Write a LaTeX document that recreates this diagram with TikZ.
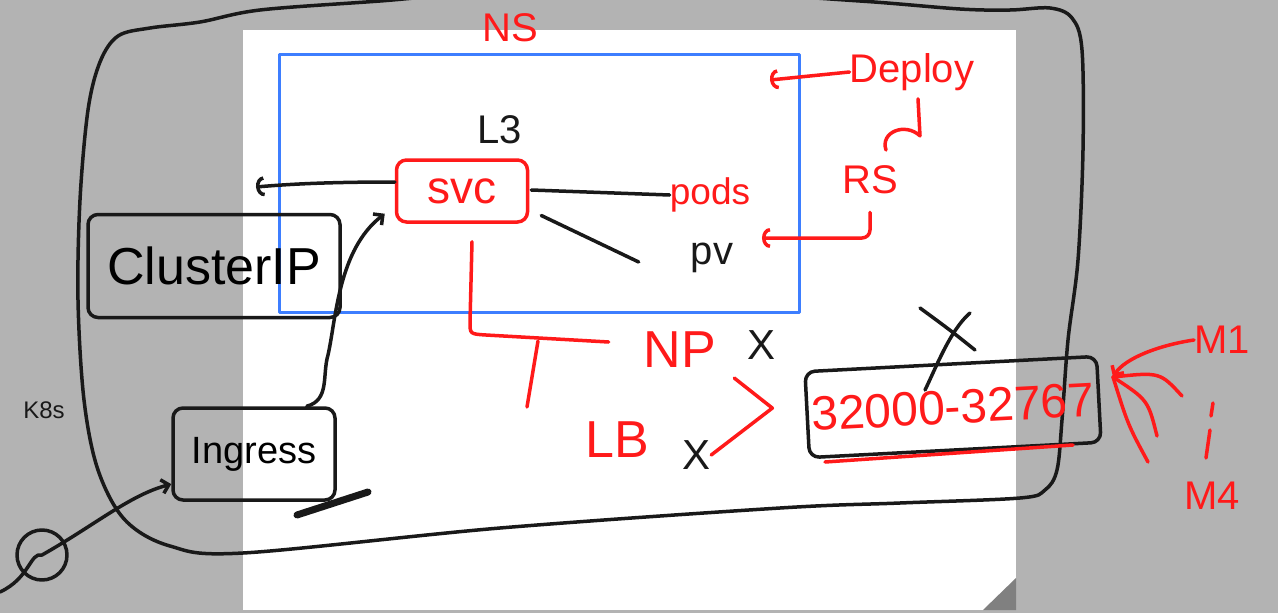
\documentclass[tikz,border=0pt]{standalone}
\usepackage{fontspec}
\setmainfont{Liberation Sans}
\usetikzlibrary{positioning,arrows.meta}
\definecolor{fundo}{HTML}{B3B3B3}
\definecolor{azul}{HTML}{3D7EFF}
\definecolor{verm}{HTML}{FF1A1A}
\definecolor{dobra}{HTML}{808080}
\newcommand{\corpo}[1]{\fontsize{#1}{#1}\selectfont}
\begin{document}
\begin{tikzpicture}[x=1pt, y=-1pt, line cap=round, line join=round,
    tinta/.style={line width=3.5pt, black!90},
    caneta/.style={line width=3.5pt, verm},
    caixa/.style={draw=black!90, line width=3.5pt, rounded corners=10pt, inner sep=0pt},
    rotulo/.style={inner sep=0pt, text=verm},
    marca/.style={inner sep=0pt, text=black!90},
    gancho/.style={-{Arc Barb[length=8pt, width=20pt]}},
    farpa/.style={-{Straight Barb[length=7pt, width=14pt]}}]
  % fundo e folha
  \useasboundingbox (0,0) rectangle (1278,613);
  \fill[fundo] (0,0) rectangle (1278,613);
  \fill[white] (243,30) rectangle (1016,610);
  \fill[dobra] (983,610) -- (1016,578) -- (1016,610) -- cycle;
  % contorno do cluster
  \draw[tinta] plot[smooth cycle, tension=0.55] coordinates {
    (100,62) (118,36) (150,28) (200,22) (260,10) (380,1) (500,-8) (700,-8)
    (860,1) (960,9) (1010,10) (1050,8) (1072,18) (1082,50) (1083,150)
    (1078,260) (1068,340) (1062,420) (1057,470) (1045,490) (1020,498)
    (900,503) (780,508) (500,528) (243,553) (170,546) (125,520) (98,470)
    (84,400) (78,300) (80,200) (88,110)};
  \node[marca] (k8s) at (44,410) {\corpo{24}K8s};
  % namespace
  \node[draw=azul, line width=3pt, minimum width=520pt, minimum height=258pt] (caixaNS) at (539,183) {};
  \node[rotulo] (ns) at (510,28) {\corpo{40}NS};
  % servico e vizinhos
  \node[draw=verm, line width=3.5pt, rounded corners=10pt, minimum width=131pt, minimum height=62pt,
    inner sep=0pt, text=verm] (svc) at (462,191) {\corpo{46}svc};
  \node[marca] (l3) at (500,130) {\corpo{40}L3};
  \node[rotulo] (pods) at (710,195) {\corpo{37}pods};
  \node[marca] (pv) at (712,258) {\corpo{40}pv};
  \node[rotulo] (deploy) at (912,72) {\corpo{40}Deploy};
  \node[rotulo] (rs) at (870,180) {\corpo{40}RS};
  \node[caixa, minimum width=252pt, minimum height=103pt] (clusterip) at (214,266) {\corpo{52}ClusterIP};
  \node[caixa, minimum width=162pt, minimum height=92pt] (ingress) at (254,454) {\corpo{38}Ingress};
  \node[draw=black!90, line width=3.5pt, circle, minimum size=50pt, inner sep=0pt] (cliente) at (42,555) {};
  % nodeport, lb
  \node[rotulo] (np) at (680,350) {\corpo{52}NP};
  \node[rotulo] (lb) at (617,440) {\corpo{52}LB};
  \node[marca] (xnp) at (762,345) {\corpo{42}X};
  \node[marca] (xlb) at (697,455) {\corpo{42}X};
  \node[caixa, rotate=3, minimum width=292pt, minimum height=86pt, text=verm] (ports) at (953,407) {\corpo{48}32000-32767};
  \node[rotulo] (m1) at (1222,340) {\corpo{40}M1};
  \node[rotulo] (m4) at (1212,496) {\corpo{40}M4};
  % pontas soltas
  \coordinate (saidaIP) at (256,187);
  \coordinate (alvoNS) at (770,80);
  \coordinate (alvoPV) at (762,238);
  \coordinate (entrada) at (0,592);
  \coordinate (haste) at (538,341);
  \coordinate (portaM) at (1113,377);
  % ligacoes pretas
  \draw[tinta, gancho] ([yshift=9pt]svc.west) .. controls (330,182) and (290,184) .. (saidaIP);
  \draw[tinta, farpa] ([xshift=-30pt]ingress.north east) .. controls (330,400) and (322,375) .. (328,355)
    .. controls (336,320) and (338,250) .. ([xshift=-10pt,yshift=10pt]svc.south west);
  \draw[tinta, farpa] (entrada) .. controls (30,578) and (30,552) .. (cliente.center)
    .. controls (95,525) and (130,495) .. (ingress.200);
  \draw[tinta] ([xshift=2pt,yshift=1pt]svc.east) -- (pods.west);
  \draw[tinta] ([xshift=12pt]svc.-20) -- ([xshift=-52pt,yshift=-4pt]pv.west);
  \draw[tinta] (920,308) .. controls (950,330) .. (975,350);
  \draw[tinta] (970,313) .. controls (950,330) and (935,370) .. (925,390);
  \draw[line width=7pt, black!90] (297,515) -- (368,492);
  % ligacoes vermelhas
  \draw[caneta, gancho] (deploy.west) -- (alvoNS);
  \draw[caneta] ([xshift=6pt,yshift=-8pt]deploy.south) -- ++(2,37)
    .. controls (905,122) and (880,132) .. (886,150);
  \draw[caneta, gancho, rounded corners=8pt] ([yshift=-18pt]rs.south) |- (alvoPV);
  \draw[caneta] ([xshift=10pt,yshift=-18pt]svc.south) -- (470,322) .. controls (470,334) .. (486,335)
    -- ([xshift=-35pt,yshift=8pt]np.west);
  \draw[caneta] (haste) -- ++(-11,66);
  \draw[caneta] ([xshift=18pt,yshift=-10pt]np.south east) -- ++(38,30) -- (xlb.east);
  \draw[caneta] (825,462) -- (1073,445);
  \draw[caneta, farpa] (m1.west) .. controls (1160,345) and (1125,358) .. (portaM);
  \foreach \ox/\oy/\cx/\cy in {1182/396/1160/372, 1157/436/1148/400, 1148/462/1128/425}
    \draw[caneta] (\ox,\oy) .. controls (\cx,\cy) .. (portaM);
  \draw[caneta] (1213,403) -- (1211,416);
  \draw[caneta] (1210,430) -- (1206,458);
\end{tikzpicture}
\end{document}
